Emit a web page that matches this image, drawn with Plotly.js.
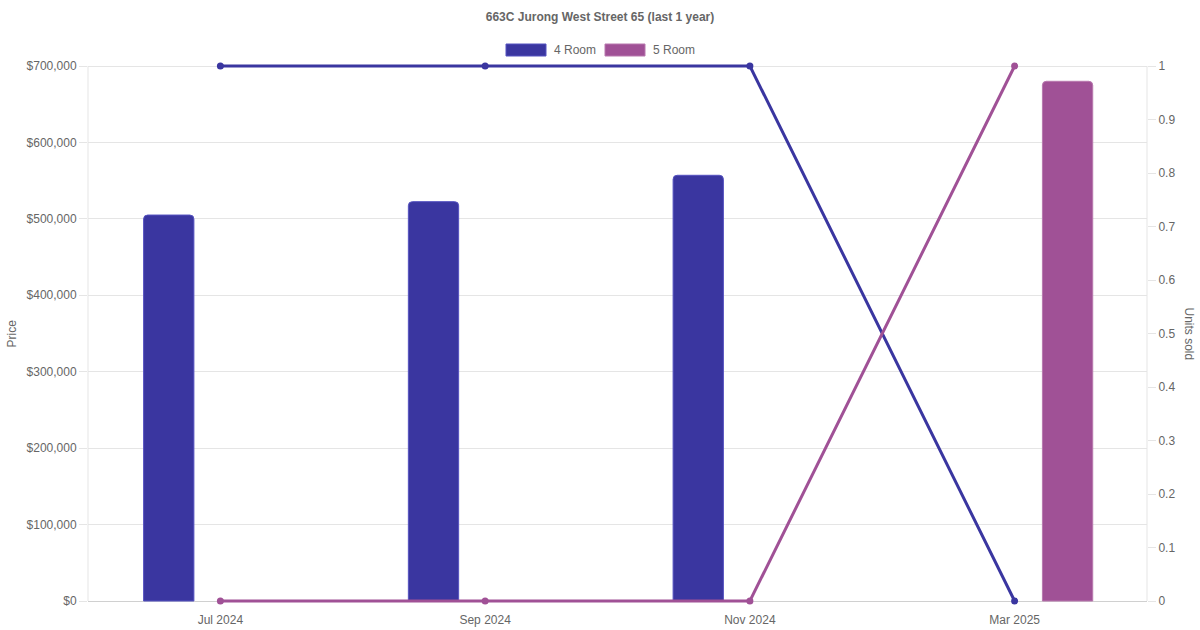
<!DOCTYPE html>
<html>
<head>
<meta charset="utf-8">
<script src="https://cdn.plot.ly/plotly-3.0.1.min.js"></script>
<style>html,body{margin:0;padding:0;background:#fff;}#chart{width:1200px;height:630px;}</style>
</head>
<body>
<div id="chart"></div>
<script>
const categories = ["Jul 2024", "Sep 2024", "Nov 2024", "Mar 2025"];
const price4Room = [505000, 522500, 557000, null];
const price5Room = [null, null, null, 680000];
const units4Room = [1, 1, 1, 0];
const units5Room = [0, 0, 0, 1];
const seriesNames = ["4 Room", "5 Room"];
const priceTickVals = [0, 100000, 200000, 300000, 400000, 500000, 600000, 700000];
const priceTickText = ["$0", "$100,000", "$200,000", "$300,000", "$400,000", "$500,000", "$600,000", "$700,000"];
const unitTickVals = [0, 0.1, 0.2, 0.3, 0.4, 0.5, 0.6, 0.7, 0.8, 0.9, 1];
const unitTickText = ["0", "0.1", "0.2", "0.3", "0.4", "0.5", "0.6", "0.7", "0.8", "0.9", "1"];
const colors = ["#3a36a0", "#a05196"];
const borders = ["#5552c0", "#b878ae"];

const FONT = "Liberation Sans, Arial, Helvetica, sans-serif";
// visible data area (pixels)
const L = 88, R = 1147, T = 66, B = 601;
// padding so the lines at the extreme values are not clipped
const PAD = 3;
const E = PAD / (B - T);
const px2x = p => (p - L) / (R - L);
const px2y = p => ((B + PAD) - p) / ((B - T) + 2 * PAD);

const traces = [
  {type: "bar", x: categories, y: price4Room, name: seriesNames[0], yaxis: "y",
   offset: -0.29, width: 0.19, marker: {color: colors[0], line: {color: borders[0], width: 1}},
   showlegend: false},
  {type: "bar", x: categories, y: price5Room, name: seriesNames[1], yaxis: "y",
   offset: 0.105, width: 0.19, marker: {color: colors[1], line: {color: borders[1], width: 1}},
   showlegend: false},
  {type: "scatter", mode: "lines+markers", x: categories, y: units4Room, yaxis: "y2",
   name: seriesNames[0], line: {color: colors[0], width: 3}, marker: {color: colors[0], size: 7},
   cliponaxis: false, showlegend: false},
  {type: "scatter", mode: "lines+markers", x: categories, y: units5Room, yaxis: "y2",
   name: seriesNames[1], line: {color: colors[1], width: 3}, marker: {color: colors[1], size: 7},
   cliponaxis: false, showlegend: false}
];

const legendShapes = [];
const legendAnns = [];
const legendX = [506, 605];
seriesNames.forEach((n, i) => {
  legendShapes.push({type: "rect", xref: "paper", yref: "paper",
    x0: px2x(legendX[i]), x1: px2x(legendX[i] + 40), y0: px2y(56), y1: px2y(44),
    fillcolor: colors[i], line: {color: borders[i], width: 1}});
  legendAnns.push({xref: "paper", yref: "paper", x: px2x(legendX[i] + 46), y: px2y(50),
    xanchor: "left", yanchor: "middle", text: n, showarrow: false,
    font: {family: FONT, size: 12, color: "#666"}});
});

const layout = {
  width: 1200, height: 630,
  margin: {l: L, r: 1200 - R, t: T - PAD, b: 630 - B - PAD, pad: 0},
  paper_bgcolor: "#fff", plot_bgcolor: "#fff",
  font: {family: FONT, size: 12, color: "#666"},
  title: {text: "<b>663C Jurong West Street 65 (last 1 year)</b>", xref: "container", x: 0.5,
    yref: "container", y: 1 - 17 / 630, yanchor: "middle",
    font: {family: FONT, size: 12, color: "#666"}},
  showlegend: false,
  barmode: "overlay",
  barcornerradius: 4,
  xaxis: {type: "category", range: [-0.5, 3.5], showgrid: false, zeroline: false,
    showline: false,
    ticks: "outside", ticklen: 5, tickcolor: "rgba(0,0,0,0)",
    tickfont: {family: FONT, size: 12, color: "#666"}},
  yaxis: {range: [-E * 700000, 700000 * (1 + E)], tickmode: "array",
    tickvals: priceTickVals, ticktext: priceTickText,
    showgrid: true, gridcolor: "#e5e5e5", gridwidth: 1,
    zeroline: true, zerolinecolor: "#d0d0d0", zerolinewidth: 1,
    showline: false,
    ticks: "outside", ticklen: 8, tickcolor: "#e5e5e5",
    tickfont: {family: FONT, size: 12, color: "#666"}},
  yaxis2: {overlaying: "y", side: "right", range: [-E, 1 + E], tickmode: "array",
    tickvals: unitTickVals, ticktext: unitTickText,
    showgrid: false, zeroline: false, showline: false,
    ticks: "outside", ticklen: 8, tickcolor: "#e5e5e5",
    tickfont: {family: FONT, size: 12, color: "#666"}},
  shapes: legendShapes.concat([
    {type: "line", xref: "paper", yref: "paper", x0: 0, x1: 0, y0: px2y(B), y1: px2y(T),
     line: {color: "#e5e5e5", width: 1}, layer: "below"},
    {type: "line", xref: "paper", yref: "paper", x0: 1, x1: 1, y0: px2y(B), y1: px2y(T),
     line: {color: "#e5e5e5", width: 1}, layer: "below"}
  ]),
  annotations: legendAnns.concat([
    {xref: "paper", yref: "paper", x: px2x(11), y: px2y(333.5), text: "Price", textangle: -90,
     showarrow: false, xanchor: "center", yanchor: "middle",
     font: {family: FONT, size: 12, color: "#666"}},
    {xref: "paper", yref: "paper", x: px2x(1189), y: px2y(333.5), text: "Units sold", textangle: 90,
     showarrow: false, xanchor: "center", yanchor: "middle",
     font: {family: FONT, size: 12, color: "#666"}}
  ])
};

Plotly.newPlot("chart", traces, layout, {displayModeBar: false, staticPlot: true});
</script>
</body>
</html>
